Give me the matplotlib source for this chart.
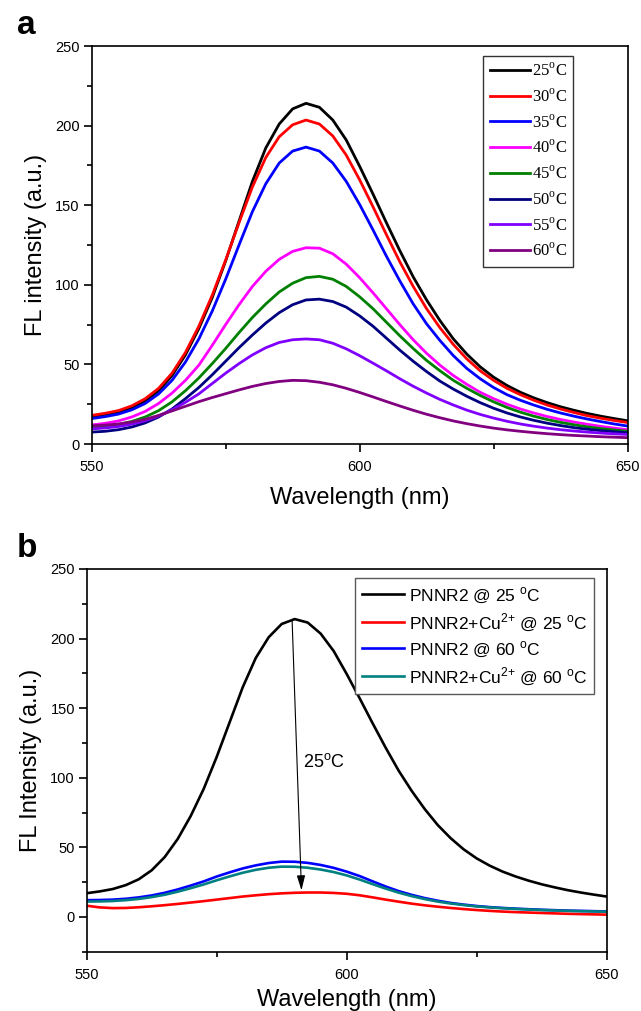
import numpy as np
import matplotlib
matplotlib.use('Agg')
import matplotlib.pyplot as plt
from matplotlib.ticker import MultipleLocator

plt.rcParams['font.family'] = ['Liberation Sans', 'DejaVu Sans']
plt.rcParams['mathtext.fontset'] = 'custom'
plt.rcParams['mathtext.rm'] = 'Liberation Serif'
plt.rcParams['mathtext.sf'] = 'Liberation Sans'

# wavelength grid (nm), 2.5 nm step
wl = np.linspace(550, 650, 41)

# panel a: emission spectra vs temperature
fl_25 = [17, 18.3, 20, 22.8, 27, 33.5, 43, 56, 72.5, 92, 115, 140, 165, 186, 201,
         210.5, 214, 211.5, 203.5, 191, 174.5, 157, 139, 121.5, 105, 90.5, 77.5, 66,
         56.5, 48.5, 42, 36.8, 32.5, 29, 26, 23.4, 21.2, 19.2, 17.5, 16, 14.6]
fl_30 = [18, 19.3, 21, 24, 28.5, 35, 44.5, 57.5, 74, 93.5, 115.5, 139, 161.5, 180,
         193, 200.5, 203.5, 201, 193.5, 181.5, 166, 149, 131.5, 114.5, 99, 85, 73,
         62.5, 53.5, 46, 40, 35, 31, 27.5, 24.5, 22, 19.8, 17.8, 16.2, 14.8, 13.5]
fl_35 = [16, 17.2, 18.8, 21.5, 25.5, 31.5, 40, 51.5, 66, 83.5, 103.5, 125, 146,
         163.5, 176.5, 184, 186.5, 184, 176.5, 165, 150.5, 134.5, 118, 102.5, 88,
         75.5, 65, 55.5, 47.5, 41, 35.5, 31, 27.5, 24.5, 21.8, 19.5, 17.5, 15.7,
         14.1, 12.6, 11.3]
fl_40 = [12, 13, 14.5, 17, 20.5, 25.5, 32, 40, 49.5, 62, 75, 87.5, 99, 108.5, 116,
         121, 123.3, 123, 119.5, 113, 104.5, 95, 85, 75, 65.5, 57, 49.5, 43, 37.5,
         32.5, 28.5, 25, 22, 19.5, 17.3, 15.4, 13.8, 12.4, 11.1, 10, 9]
fl_45 = [10.5, 11.2, 12.3, 14.2, 17, 21, 26.5, 33.5, 41.5, 50.5, 60, 70, 79.5, 88,
         95.5, 101, 104.5, 105.3, 103.5, 99, 92.5, 85, 76.5, 68, 60, 52.5, 46, 40,
         35, 30.5, 26.5, 23, 20, 17.5, 15.4, 13.6, 12.1, 10.8, 9.7, 8.8, 8]
fl_50 = [7.5, 8, 9, 10.7, 13.3, 17, 22, 28.5, 35.5, 43.5, 52, 60.5, 68.5, 76, 82.5,
         87.5, 90.5, 91, 89.5, 86, 80.5, 74, 66.5, 59, 52, 45.5, 39.5, 34.5, 30, 26,
         22.5, 19.5, 17, 14.9, 13.1, 11.6, 10.3, 9.3, 8.4, 7.7, 7.1]
fl_55 = [9.5, 10.1, 11, 12.5, 14.6, 17.6, 21.5, 26.2, 31.5, 38, 44.5, 50.5, 56,
         60.5, 63.8, 65.5, 66, 65.5, 63.3, 59.8, 55.5, 50.8, 46, 41, 36.3, 32, 28,
         24.5, 21.3, 18.6, 16.3, 14.3, 12.6, 11.2, 10, 9, 8.2, 7.5, 6.9, 6.4, 6]
fl_60 = [11.5, 11.9, 12.6, 13.8, 15.5, 18, 20.8, 23.7, 26.6, 29.2, 31.6, 34, 36.2,
         38, 39.3, 40, 39.8, 38.8, 37.2, 35, 32.4, 29.6, 26.7, 23.9, 21.2, 18.7,
         16.5, 14.5, 12.8, 11.3, 10, 8.9, 8, 7.2, 6.5, 5.9, 5.4, 5, 4.6, 4.3, 4]

temps_a = [25, 30, 35, 40, 45, 50, 55, 60]
colors_a = ['#000000', '#ff0000', '#0000ff', '#ff00ff', '#008000', '#000080',
            '#8000ff', '#800080']

# panel b: effect of Cu2+ at 25 and 60 C
pnnr2_25 = fl_25
pnnr2_cu_25 = [8, 6.8, 6.3, 6.4, 6.9, 7.6, 8.4, 9.3, 10.3, 11.3, 12.4, 13.5, 14.6,
               15.5, 16.3, 16.9, 17.3, 17.5, 17.5, 17.2, 16.6, 15.5, 14, 12.4, 10.9,
               9.5, 8.3, 7.3, 6.4, 5.6, 4.9, 4.3, 3.8, 3.4, 3.1, 2.8, 2.5, 2.2, 2,
               1.8, 1.6]
pnnr2_60 = [12, 12.1, 12.4, 13, 14, 15.4, 17.3, 19.7, 22.5, 25.5, 29, 32, 34.8, 37,
            38.7, 39.7, 39.6, 38.8, 37.3, 35.2, 32.5, 29.3, 25.5, 21.8, 18.5, 15.8,
            13.5, 11.6, 10, 8.8, 7.8, 7, 6.4, 5.9, 5.5, 5.1, 4.8, 4.5, 4.3, 4.1, 3.9]
pnnr2_cu_60 = [11, 11.1, 11.4, 12, 12.9, 14.2, 15.9, 18.1, 20.6, 23.3, 26.3, 29.1,
               31.7, 33.8, 35.3, 36.1, 36, 35.3, 34, 32.2, 29.8, 26.8, 23.5, 20.3,
               17.4, 14.9, 12.8, 11, 9.6, 8.5, 7.5, 6.8, 6.2, 5.7, 5.3, 4.9, 4.6,
               4.3, 4.1, 3.9, 3.7]
labels_b = [r'PNNR2 @ 25 $^{\mathsf{o}}$C',
            r'PNNR2+Cu$^{\mathsf{2{+}}}$ @ 25 $^{\mathsf{o}}$C',
            r'PNNR2 @ 60 $^{\mathsf{o}}$C',
            r'PNNR2+Cu$^{\mathsf{2{+}}}$ @ 60 $^{\mathsf{o}}$C']
colors_b = ['#000000', '#ff0000', '#0000ff', '#008080']

fig = plt.figure(figsize=(6.41, 10.11), dpi=100)
ax1 = fig.add_axes([0.143, 0.5608, 0.836, 0.3937])
ax2 = fig.add_axes([0.1353, 0.0587, 0.8112, 0.3785])


def style_axes(ax):
    for s in ax.spines.values():
        s.set_linewidth(1.2)
    ax.tick_params(which='both', direction='out', top=False, right=False,
                   labelsize=10.5, width=1.2)
    ax.tick_params(axis='y', which='both', pad=3)
    ax.tick_params(axis='x', which='both', pad=6)
    ax.tick_params(which='major', length=5.5)
    ax.tick_params(which='minor', length=3.3)
    ax.xaxis.set_major_locator(MultipleLocator(50))
    ax.xaxis.set_minor_locator(MultipleLocator(25))
    ax.yaxis.set_major_locator(MultipleLocator(50))
    ax.yaxis.set_minor_locator(MultipleLocator(25))


# ---- panel a
for t, y, c in zip(temps_a, [fl_25, fl_30, fl_35, fl_40, fl_45, fl_50, fl_55, fl_60],
                   colors_a):
    ax1.plot(wl, y, color=c, lw=2, label=r'%d$^{\mathrm{o}}$C' % t)
ax1.set_xlim(550, 650)
ax1.set_ylim(0, 250)
style_axes(ax1)
ax1.set_xlabel('Wavelength (nm)', fontsize=17, labelpad=9)
ax1.set_ylabel('FL intensity (a.u.)', fontsize=17, labelpad=6)
leg1 = ax1.legend(loc='upper left', bbox_to_anchor=(0.7306, 0.9756), borderaxespad=0,
                  prop={'family': 'Liberation Serif', 'size': 12},
                  handlelength=2.4, handletextpad=0.1, labelspacing=0.5,
                  borderpad=0.4, fancybox=False, framealpha=1)
leg1.get_frame().set_edgecolor('0.2')
leg1.get_frame().set_linewidth(1.0)

# ---- panel b
for y, lab, c in zip([pnnr2_25, pnnr2_cu_25, pnnr2_60, pnnr2_cu_60], labels_b, colors_b):
    ax2.plot(wl, y, color=c, lw=1.9, label=lab)
ax2.set_xlim(550, 650)
ax2.set_ylim(-25, 250)
style_axes(ax2)
ax2.set_xlabel('Wavelength (nm)', fontsize=17, labelpad=5)
ax2.set_ylabel('FL Intensity (a.u.)', fontsize=17, labelpad=6)
leg2 = ax2.legend(loc='upper left', bbox_to_anchor=(0.516, 0.9757), borderaxespad=0,
                  fontsize=12.5, handlelength=2.4, handletextpad=0.3,
                  labelspacing=0.35, borderpad=0.4, fancybox=False, framealpha=1)
leg2.get_frame().set_edgecolor('0.35')
leg2.get_frame().set_linewidth(1.0)

# quenching arrow from the 25 C peak down to the Cu2+ curve
ax2.annotate('', xy=(591.3, 19), xytext=(589.5, 213),
             arrowprops=dict(arrowstyle='-|>,head_length=0.9,head_width=0.25',
                             lw=0.8, color='k', mutation_scale=10,
                             shrinkA=0, shrinkB=0))
ax2.text(591.6, 111, r'25$^{\mathsf{o}}$C', fontsize=13, va='center', ha='left')

fig.text(0.026, 1 - 34 / 1011, 'a', fontsize=24, fontweight='bold', va='baseline')
fig.text(0.026, 1 - 557 / 1011, 'b', fontsize=24, fontweight='bold', va='baseline')

fig.savefig('out.png', dpi=100)
